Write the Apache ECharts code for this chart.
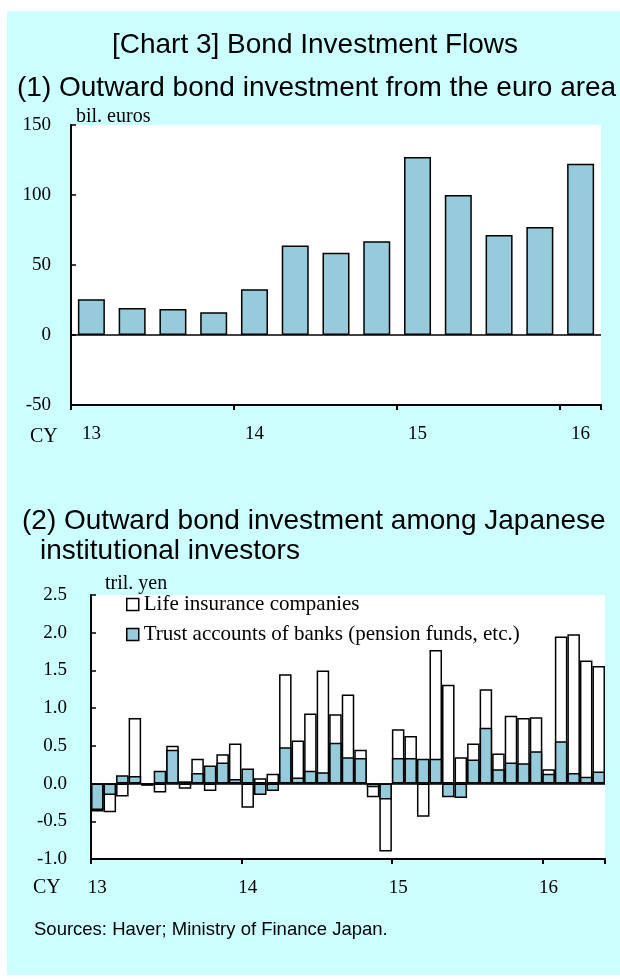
<!DOCTYPE html>
<html>
<head>
<meta charset="utf-8">
<script src="https://cdn.jsdelivr.net/npm/echarts@6/dist/echarts.min.js"></script>
<style>
html, body { margin: 0; padding: 0; width: 620px; height: 979px; background: #fff; }
#bg { position: absolute; left: 7px; top: 11px; width: 613px; height: 964px; background: #ccffff; }
#chart { position: absolute; left: 0; top: 0; width: 620px; height: 979px; }
</style>
</head>
<body>
<div id="bg"></div>
<div id="chart"></div>
<script>
// (1) euro area, quarterly, bil. euros
var euroQuarters = ['13Q1','13Q2','13Q3','13Q4','14Q1','14Q2','14Q3','14Q4','15Q1','15Q2','15Q3','15Q4','16Q1'];
var euroOutward = [25.5, 19.3, 18.6, 16.2, 32.6, 64.0, 58.8, 66.9, 127.1, 100.0, 71.4, 77.1, 122.4];

// (2) Japanese investors, monthly, tril. yen
var yearLabels = ['13', '14', '15', '16'];
var jpMonths = [];
yearLabels.forEach(function (y) {
  for (var m = 1; m <= 12; m++) jpMonths.push(y + '/' + m);
});
jpMonths = jpMonths.slice(0, 41); // 2013/1 - 2016/5
var lifeIns = [-0.37, -0.38, -0.17, 0.87, -0.03, -0.12, 0.50, -0.07, 0.33, -0.10, 0.39, 0.53,
               -0.32, 0.07, 0.13, 1.45, 0.57, 0.93, 1.50, 0.92, 1.18, 0.45, -0.18, -0.90,
               0.72, 0.63, -0.44, 1.77, 1.31, 0.35, 0.53, 1.25, 0.40, 0.90, 0.87, 0.88,
               0.19, 1.95, 1.98, 1.63, 1.56];
var trustAcc = [-0.35, -0.15, 0.11, 0.10, -0.01, 0.17, 0.45, 0.03, 0.14, 0.24, 0.28, 0.06,
                0.20, -0.15, -0.10, 0.48, 0.08, 0.17, 0.15, 0.54, 0.35, 0.34, -0.05, -0.21,
                0.34, 0.34, 0.33, 0.33, -0.18, -0.19, 0.32, 0.74, 0.19, 0.28, 0.27, 0.43,
                0.13, 0.56, 0.14, 0.09, 0.16];

var BLUE = '#96cbdc';
var SERIF = 'Liberation Serif';
var SANS = 'Liberation Sans';
var serifLabel = { color: '#000', fontFamily: SERIF, fontSize: 19 };
var axisLine = { show: true, onZero: false, lineStyle: { color: '#000', width: 2 } };
var zeroLine = {
  silent: true, symbol: 'none', label: { show: false },
  lineStyle: { color: '#000', width: 1.5, type: 'solid' },
  data: [{ yAxis: 0 }]
};

var chart = echarts.init(document.getElementById('chart'));
chart.setOption({
  animation: false,
  backgroundColor: 'transparent',
  grid: [
    { left: 71, top: 125, width: 530, height: 280, show: true, backgroundColor: '#fff', borderWidth: 0 },
    { left: 91, top: 595, width: 514, height: 264, show: true, backgroundColor: '#fff', borderWidth: 0 }
  ],
  xAxis: [
    {
      type: 'category', gridIndex: 0, data: euroQuarters,
      axisLine: axisLine,
      axisTick: { show: true, length: 5, interval: function (i) { return i % 4 === 0; }, lineStyle: { color: '#000', width: 2 } },
      axisLabel: Object.assign({ margin: 20, interval: function (i) { return i % 4 === 0; },
        formatter: function (v) { return v.slice(0, 2); } }, serifLabel)
    },
    {
      type: 'category', gridIndex: 1, data: jpMonths,
      axisLine: axisLine,
      axisTick: { show: true, length: 5, interval: function (i) { return i % 12 === 0; }, lineStyle: { color: '#000', width: 2 } },
      axisLabel: Object.assign({ margin: 20, interval: function (i) { return i % 12 === 0; },
        formatter: function (v) { return v.split('/')[0]; } }, serifLabel)
    }
  ],
  yAxis: [
    {
      type: 'value', gridIndex: 0, min: -50, max: 150, interval: 50,
      name: 'bil. euros', nameLocation: 'end', nameGap: 0,
      nameTextStyle: { color: '#000', fontFamily: SERIF, fontSize: 20, align: 'left', verticalAlign: 'bottom', padding: [0, 0, -2, 5] },
      axisLine: axisLine,
      axisTick: { show: true, inside: true, length: 5, lineStyle: { color: '#000', width: 1.5 } },
      splitLine: { show: false },
      axisLabel: Object.assign({ margin: 20 }, serifLabel)
    },
    {
      type: 'value', gridIndex: 1, min: -1, max: 2.5, interval: 0.5,
      name: 'tril. yen', nameLocation: 'end', nameGap: 0,
      nameTextStyle: { color: '#000', fontFamily: SERIF, fontSize: 20, align: 'left', verticalAlign: 'bottom', padding: [0, 0, 1, 14] },
      axisLine: axisLine,
      axisTick: { show: true, inside: true, length: 5, lineStyle: { color: '#000', width: 1.5 } },
      splitLine: { show: false },
      axisLabel: Object.assign({ margin: 24, formatter: function (v) { return v.toFixed(1); } }, serifLabel)
    }
  ],
  legend: {
    data: ['Life insurance companies', 'Trust accounts of banks (pension funds, etc.)'],
    orient: 'vertical', left: 126, top: 594, padding: 0, icon: 'rect',
    itemWidth: 12, itemHeight: 12, itemGap: 9,
    itemStyle: { borderColor: '#000', borderWidth: 1.5 },
    textStyle: { color: '#000', fontFamily: SERIF, fontSize: 21, lineHeight: 21 }
  },
  series: [
    {
      name: 'Outward bond investment', type: 'bar', xAxisIndex: 0, yAxisIndex: 0,
      data: euroOutward, barWidth: 27,
      itemStyle: { color: BLUE, borderColor: '#000', borderWidth: 1.5 },
      markLine: zeroLine
    },
    {
      name: 'Life insurance companies', type: 'bar', xAxisIndex: 1, yAxisIndex: 1,
      data: lifeIns, barGap: '-100%', barCategoryGap: '0%',
      itemStyle: { color: '#fff', borderColor: '#000', borderWidth: 1.5 }
    },
    {
      name: 'Trust accounts of banks (pension funds, etc.)', type: 'bar', xAxisIndex: 1, yAxisIndex: 1,
      data: trustAcc, barGap: '-100%', barCategoryGap: '0%',
      itemStyle: { color: BLUE, borderColor: '#000', borderWidth: 1.5 },
      markLine: zeroLine
    }
  ],
  graphic: [
    { type: 'text', x: 315, y: 45, style: { text: '[Chart 3] Bond Investment Flows', fill: '#000', font: '28px "' + SANS + '"', align: 'center', verticalAlign: 'middle' } },
    { type: 'text', x: 17, y: 88, style: { text: '(1) Outward bond investment from the euro area', fill: '#000', font: '28px "' + SANS + '"', align: 'left', verticalAlign: 'middle' } },
    { type: 'text', x: 22, y: 521, style: { text: '(2) Outward bond investment among Japanese', fill: '#000', font: '28px "' + SANS + '"', align: 'left', verticalAlign: 'middle' } },
    { type: 'text', x: 40, y: 551, style: { text: 'institutional investors', fill: '#000', font: '28px "' + SANS + '"', align: 'left', verticalAlign: 'middle' } },
    { type: 'text', x: 30, y: 437, style: { text: 'CY', fill: '#000', font: '20px "' + SERIF + '"', align: 'left', verticalAlign: 'middle' } },
    { type: 'text', x: 33, y: 888, style: { text: 'CY', fill: '#000', font: '20px "' + SERIF + '"', align: 'left', verticalAlign: 'middle' } },
    { type: 'text', x: 34, y: 930, style: { text: 'Sources: Haver; Ministry of Finance Japan.', fill: '#000', font: '18.5px "' + SANS + '"', align: 'left', verticalAlign: 'middle' } }
  ]
});
</script>
</body>
</html>
